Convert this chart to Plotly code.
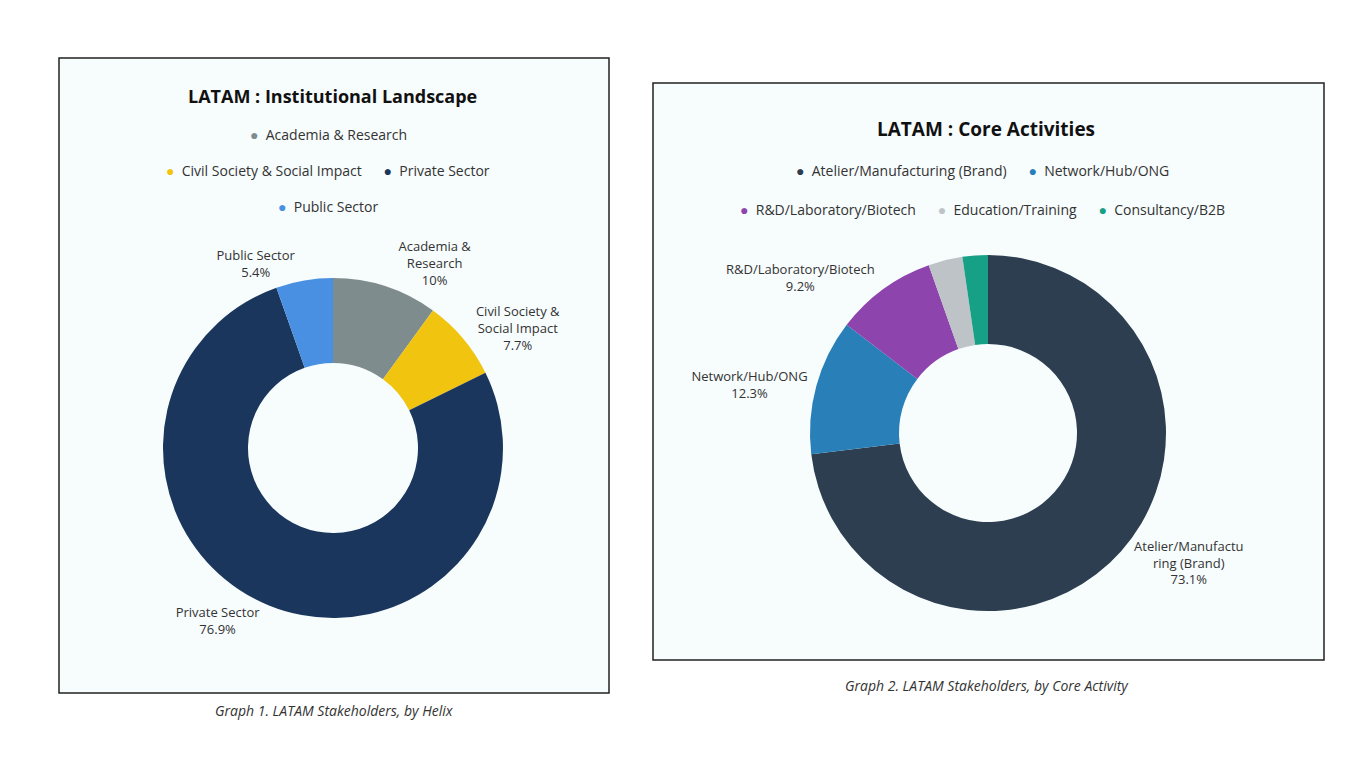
import plotly.graph_objects as go

W, H = 1366, 768

inst_labels = ["Academia & Research", "Civil Society & Social Impact", "Private Sector", "Public Sector"]
inst_text = ["Academia &<br>Research", "Civil Society &<br>Social Impact", "Private Sector", "Public Sector"]
inst_values = [10.0, 7.7, 76.9, 5.4]
inst_colors = ["#7f8c8d", "#f1c40f", "#1b365d", "#4a90e2"]

core_labels = ["Atelier/Manufacturing (Brand)", "Network/Hub/ONG", "R&D/Laboratory/Biotech",
               "Education/Training", "Consultancy/B2B"]
core_text = ["Atelier/Manufactu<br>ring (Brand)", "Network/Hub/ONG", "R&D/Laboratory/Biotech", "", ""]
core_values = [73.1, 12.3, 9.2, 3.1, 2.3]
core_colors = ["#2c3e50", "#2980b9", "#8e44ad", "#bdc3c7", "#16a085"]

FONT = "Open Sans"


def px(x):
    return x / W


def py(y):
    return 1 - y / H


def tmpl(texts):
    return [f"{t}<br>%{{percent}}" if t else "" for t in texts]


fig = go.Figure()
fig.add_trace(go.Pie(
    labels=inst_labels, values=inst_values, customdata=inst_text,
    texttemplate=tmpl(inst_text), textposition="outside",
    marker=dict(colors=inst_colors), hole=0.5, sort=False, direction="clockwise", rotation=0,
    domain=dict(x=[px(155), px(495)], y=[py(610), py(270)]),
    textfont=dict(size=13, color="#333", family=FONT), showlegend=False,
))
fig.add_trace(go.Pie(
    labels=core_labels, values=core_values,
    texttemplate=tmpl(core_text), textposition="outside",
    marker=dict(colors=core_colors), hole=0.5, sort=False, direction="clockwise", rotation=0,
    domain=dict(x=[px(802), px(1158)], y=[py(603), py(247)]),
    textfont=dict(size=13, color="#333", family=FONT), showlegend=False,
))

shapes = [
    dict(type="rect", xref="paper", yref="paper", x0=px(51), x1=px(601), y0=py(685), y1=py(50),
         line=dict(color="#222", width=1.5), fillcolor="#f7fcfd", layer="below"),
    dict(type="rect", xref="paper", yref="paper", x0=px(645), x1=px(1316), y0=py(652), y1=py(75),
         line=dict(color="#222", width=1.5), fillcolor="#f7fcfd", layer="below"),
]


def ann(x, y, text, size=14, **kw):
    return dict(x=px(x), y=py(y), xref="paper", yref="paper", text=text, showarrow=False,
                font=dict(size=size, color="#333", family=FONT), xanchor="center", yanchor="middle", **kw)


def entry(color, label):
    return f"<span style='color:{color}'>●</span>  {label}"


annotations = [
    ann(324, 88, "<b>LATAM : Institutional Landscape</b>", size=18, ),
    ann(320, 126, entry(inst_colors[0], inst_labels[0])),
    ann(320, 162, entry(inst_colors[1], inst_labels[1]) + "      " + entry(inst_colors[2], inst_labels[2])),
    ann(320, 199, entry(inst_colors[3], inst_labels[3])),
    ann(978, 121, "<b>LATAM : Core Activities</b>", size=19),
    ann(975, 162, entry(core_colors[0], core_labels[0]) + "      " + entry(core_colors[1], core_labels[1])),
    ann(975, 201, entry(core_colors[2], core_labels[2]) + "      " + entry(core_colors[3], core_labels[3])
        + "      " + entry(core_colors[4], core_labels[4])),
    ann(326, 702, "<i>Graph 1. LATAM Stakeholders, by Helix</i>", size=14),
    ann(979, 677, "<i>Graph 2. LATAM Stakeholders, by Core Activity</i>", size=14),
]
for a in annotations:
    a["font"]["color"] = "#111" if "<b>" in a["text"] else "#333"

fig.update_layout(
    width=W, height=H, margin=dict(l=0, r=0, t=0, b=0),
    paper_bgcolor="white", plot_bgcolor="white",
    shapes=shapes, annotations=annotations, font=dict(family=FONT),
)
fig.write_html("out.html")
